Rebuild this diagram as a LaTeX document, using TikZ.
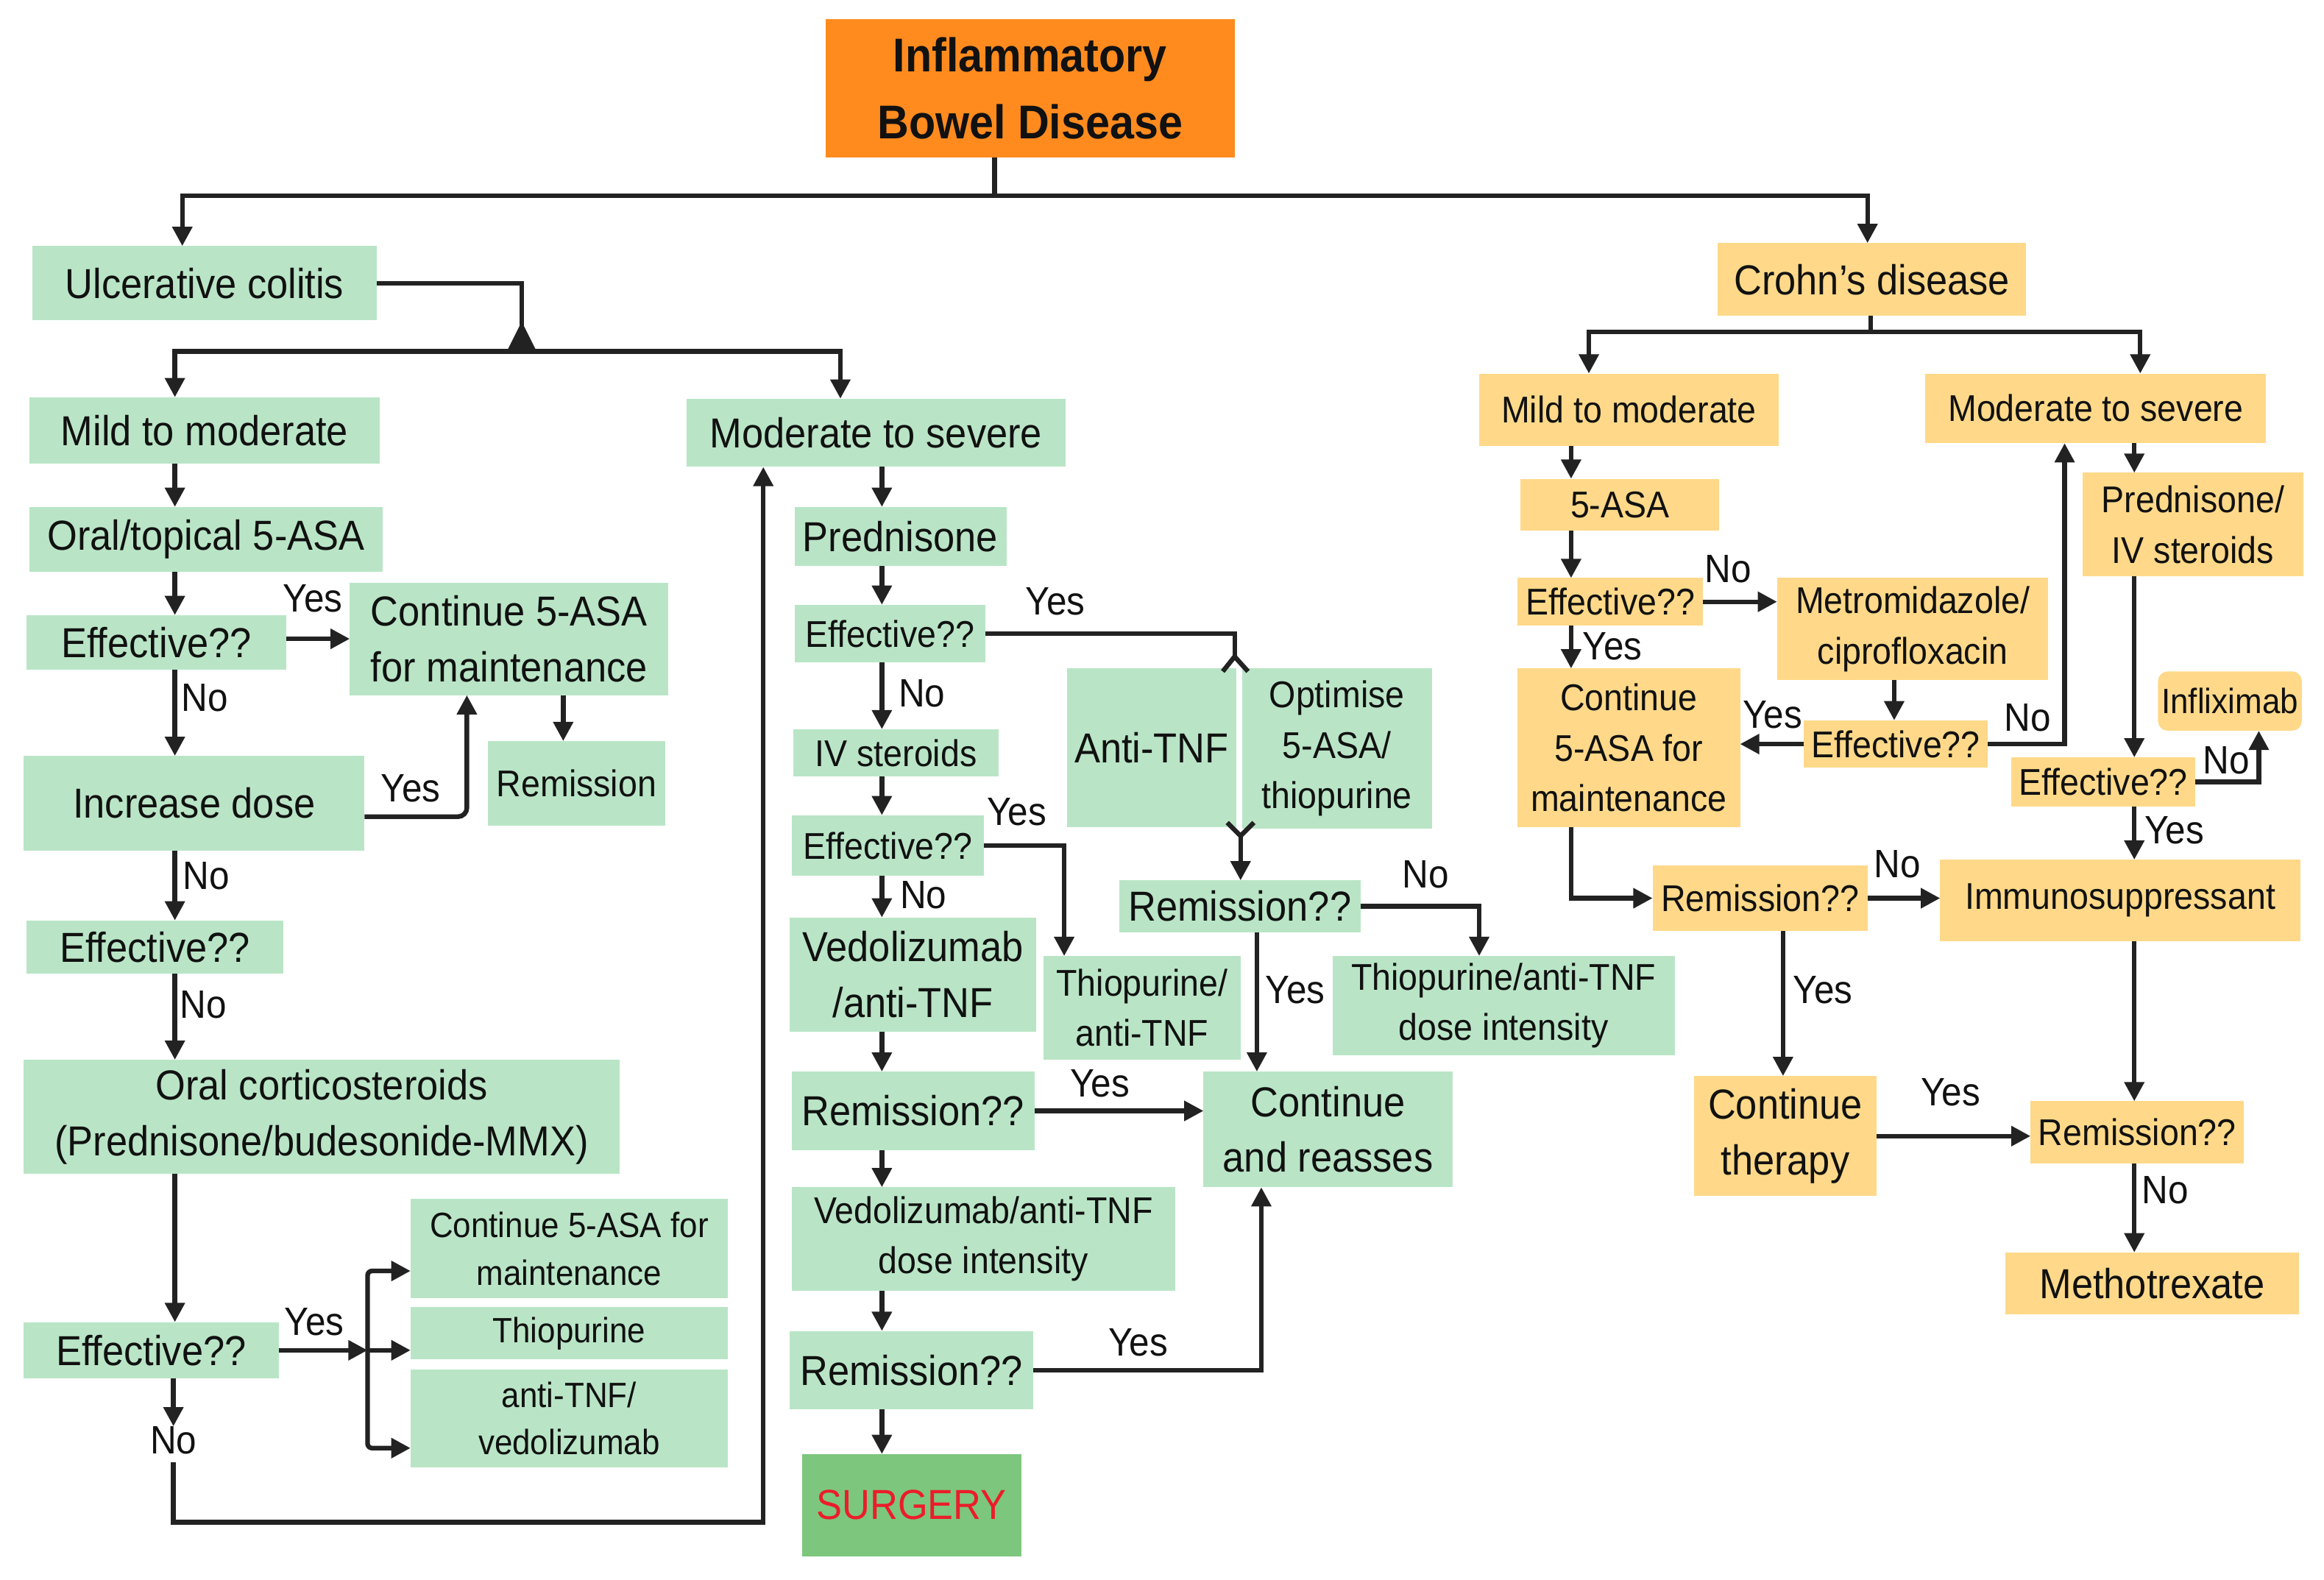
\documentclass[tikz,border=0pt]{standalone}
\usepackage{fontspec}
\setmainfont{Liberation Sans}[FakeStretch=0.92]
\usetikzlibrary{arrows.meta}

\definecolor{ucgreen}{HTML}{B9E5C6}
\definecolor{cdyellow}{HTML}{FFD989}
\definecolor{ibdorange}{HTML}{FF8B1F}
\definecolor{surgG}{HTML}{7DC67D}
\definecolor{surgR}{HTML}{EC1C2A}
\definecolor{lineC}{HTML}{222222}
\definecolor{txtC}{HTML}{111111}

\newcommand\ftL{\fontsize{16.1}{21.3}\selectfont}
\newcommand\ftM{\fontsize{14.3}{19.3}\selectfont}
\newcommand\ftS{\fontsize{13.5}{18.2}\selectfont}
\newcommand\ftLbl{\fontsize{15.2}{18}\selectfont}
\newcommand\ftTitle{\fontsize{18.2}{25.6}\selectfont\bfseries}

\tikzset{
  lnk/.style={draw=lineC, line width=1.8pt},
  arr/.style={lnk, -{Triangle[length=0.26cm,width=0.26cm]}},
  sz/.style 2 args={minimum width=#1*0.02cm, minimum height=#2*0.02cm},
  basebox/.style={inner sep=0pt, outer sep=0pt, align=center, text=txtC},
  gL/.style={basebox, fill=ucgreen, font=\ftL},
  gM/.style={basebox, fill=ucgreen, font=\ftM},
  gS/.style={basebox, fill=ucgreen, font=\ftS},
  yL/.style={basebox, fill=cdyellow, font=\ftL},
  yM/.style={basebox, fill=cdyellow, font=\ftM},
  yS/.style={basebox, fill=cdyellow, font=\ftS},
  obox/.style={basebox, fill=ibdorange, font=\ftTitle},
  sbox/.style={basebox, fill=surgG, font=\ftL, text=surgR},
  lbl/.style={inner sep=0pt, font=\ftLbl, text=txtC},
}

\begin{document}
\begin{tikzpicture}[x=0.02cm, y=-0.02cm]
			\useasboundingbox (0,0) rectangle (1568,1066);
			
			%%%%% COLUMNS %%%%%
			\coordinate (cA) at (118,0);
			\coordinate (cB) at (595,0);
			\coordinate (cC) at (1060,0);
			\coordinate (cD) at (1440,0);
			
			%%%%% TOP %%%%%
			\node (ibd) [obox, sz={276}{93}] at (695,59.5) {Inflammatory\\Bowel Disease};
			\node (uc) [gL, sz={232}{50}] at (138,191) {Ulcerative colitis};
			\node (cd) [yL, sz={208}{49}] at (1263,188.5) {Crohn's disease};
			
			\coordinate (topbar) at (671,132);
			\draw[lnk] (ibd.south -| topbar) -- (topbar);
			\draw[arr] (topbar) -| (uc.north -| 123,0);
			\draw[arr] (topbar) -| (cd.north -| 1260,0);
			
			%%%%% ULCERATIVE COLITIS, MILD %%%%%
			\node (ucmild) [gL, sz={236}{45}] at (138,290.5) {Mild to moderate};
			\node (ucmod) [gL, sz={256}{46}] at (591,292) {Moderate to severe};
			\node (oral) [gL, sz={238}{44}] at (139,364) {Oral/topical 5-ASA};
			\node (eff1) [gL, sz={175}{37}] at (105.5,433.5) {Effective??};
			\node (cont1) [gL, sz={215}{76}] at (343.5,431) {Continue 5-ASA\\for maintenance};
			\node (incr) [gL, sz={230}{64}] at (131,542) {Increase dose};
			\node (remis1) [gM, sz={120}{57}] at (389,528.5) {Remission};
			\node (eff2) [gL, sz={173}{36}] at (104.5,639) {Effective??};
			\node (cortico) [gL, sz={402}{77}] at (217,753.5) {Oral corticosteroids\\(Prednisone/budesonide-MMX)};
			\node (eff3) [gL, sz={172}{38}] at (102,911) {Effective??};
			\node (cont2) [gS, sz={214}{67}] at (384,842.5) {Continue 5-ASA for\\maintenance};
			\node (thio1) [gS, sz={214}{35}] at (384,899.5) {Thiopurine};
			\node (tnf1) [gS, sz={214}{66}] at (384,957) {anti-TNF/\\vedolizumab};
			
			\coordinate (ucbar) at (352,237);
			\draw[lnk] (uc.east) -| (ucbar);
			\fill[lineC] (ucbar) ++(0,-20) -- ++(10,20) -- ++(-20,0) -- cycle;
			\draw[arr] (ucbar) -| (ucmild.north -| cA);
			\draw[arr] (ucbar) -| (ucmod.north -| 567,0);
			
			\draw[arr] (ucmild.south -| cA) -- (oral.north -| cA);
			\draw[arr] (oral.south -| cA) -- (eff1.north -| cA);
			\draw[arr] (eff1.east |- cont1.west) -- (cont1.west);
			\node[lbl] (y1) at (211,404) {Yes};
			\draw[arr] (eff1.south -| cA) -- (incr.north -| cA);
			\node[lbl] (n1) at (138,471) {No};
			\draw[arr, rounded corners=0.12cm] ([yshift=-0.18cm]incr.east) -| (cont1.south -| 315,0);
			\node[lbl] (y2) at (277,532) {Yes};
			\draw[arr] (cont1.south -| 380,0) -- (remis1.north -| 380,0);
			\draw[arr] (incr.south -| cA) -- (eff2.north -| cA);
			\node[lbl] (n2) at (139,591) {No};
			\draw[arr] (eff2.south -| cA) -- (cortico.north -| cA);
			\node[lbl] (n3) at (137,678) {No};
			\draw[arr] (cortico.south -| cA) -- (eff3.north -| cA);
			
			\coordinate (ybar) at (248,0);
			\draw[arr] (eff3.east) -- (eff3.east -| ybar);
			\draw[arr, rounded corners=0.06cm] (eff3.east -| ybar) |- ([yshift=-0.3cm]cont2.west);
			\draw[arr] (eff3.east -| ybar) -- (eff3.east -| thio1.west);
			\draw[arr, rounded corners=0.06cm] (eff3.east -| ybar) |- ([yshift=-0.4cm]tnf1.west);
			\node[lbl] (y3) at (212,892) {Yes};
			
			\node[lbl] (n4) at (117,972) {No};
			\draw[arr] (eff3.south -| n4) -- (n4.north);
			\coordinate (back) at (515,1027);
			\draw[arr] ([yshift=-0.1cm]n4.south) |- (back) -- (ucmod.south -| back);
			
			%%%%% ULCERATIVE COLITIS, SEVERE %%%%%
			\node (pred) [gL, sz={143}{40}] at (607.5,362) {Prednisone};
			\node (eff4) [gM, sz={129}{39}] at (600.5,427.5) {Effective??};
			\node (ivst) [gM, sz={139}{32}] at (604.5,508) {IV steroids};
			\node (eff5) [gM, sz={130}{41}] at (599,570.5) {Effective??};
			\node (vedo) [gL, sz={166}{77}] at (616,657.5) {Vedolizumab\\/anti-TNF};
			\node (thiotnf) [gM, sz={133}{70}] at (770.5,680) {Thiopurine/\\anti-TNF};
			\node (remis2) [gL, sz={164}{53}] at (616,749.5) {Remission??};
			\node (vedodose) [gM, sz={259}{70}] at (663.5,836) {Vedolizumab/anti-TNF\\dose intensity};
			\node (remis3) [gL, sz={164}{53}] at (615,924.5) {Remission??};
			\node (surg) [sbox, sz={148}{69}] at (615,1015.5) {SURGERY};
			\node (tnf2) [gL, sz={114}{107}] at (777,504.5) {Anti-TNF};
			\node (optim) [gM, sz={128}{108}] at (902,505) {Optimise\\5-ASA/\\thiopurine};
			\node (remism) [gL, sz={163}{35}] at (836.5,611.5) {Remission??};
			\node (thiodose) [gM, sz={231}{67}] at (1014.5,678.5) {Thiopurine/anti-TNF\\dose intensity};
			\node (contre) [gL, sz={168}{78}] at (896,762) {Continue\\and reasses};
			
			\draw[arr] (ucmod.south -| cB) -- (pred.north -| cB);
			\draw[arr] (pred.south -| cB) -- (eff4.north -| cB);
			\coordinate (forkT) at (833,443);
			\draw[lnk] (eff4.east) -| (forkT);
			\draw[lnk] (forkT) ++(-8,10) -- (forkT) -- ++(9,10);
			\node[lbl] (y4) at (712,406) {Yes};
			\draw[arr] (eff4.south -| cB) -- (ivst.north -| cB);
			\node[lbl] (n5) at (622,468) {No};
			\draw[arr] (ivst.south -| cB) -- (eff5.north -| cB);
			\draw[arr] (eff5.east) -| (thiotnf.north -| 718,0);
			\node[lbl] (y5) at (686,548) {Yes};
			\draw[arr] (eff5.south -| cB) -- (vedo.north -| cB);
			\node[lbl] (n6) at (623,604) {No};
			\draw[arr] (vedo.south -| cB) -- (remis2.north -| cB);
			\draw[arr] (remis2.east) -- (remis2.east -| contre.west);
			\node[lbl] (y6) at (742,731) {Yes};
			\draw[arr] (remis2.south -| cB) -- (vedodose.north -| cB);
			\draw[arr] (vedodose.south -| cB) -- (remis3.north -| cB);
			\draw[arr] (remis3.east) -| (contre.south -| 851,0);
			\node[lbl] (y7) at (768,906) {Yes};
			\draw[arr] (remis3.south -| cB) -- (surg.north -| cB);
			
			\coordinate (forkB) at (837,564);
			\draw[lnk] (forkB) ++(-9,-9) -- (forkB) -- ++(9,-9);
			\draw[arr] (forkB) -- (remism.north -| forkB);
			\draw[arr] (remism.east) -| (thiodose.north -| 998,0);
			\node[lbl] (n7) at (962,590) {No};
			\draw[arr] (remism.south -| 848,0) -- (contre.north -| 848,0);
			\node[lbl] (y8) at (874,668) {Yes};
			
			%%%%% CROHN'S DISEASE %%%%%
			\node (cdmild) [yM, sz={202}{49}] at (1099,276.5) {Mild to moderate};
			\node (cdmod) [yM, sz={230}{47}] at (1414,275.5) {Moderate to severe};
			\node (asa) [yM, sz={134}{35}] at (1093,340.5) {5-ASA};
			\node (eff6) [yM, sz={125}{32}] at (1086.5,406) {Effective??};
			\node (metro) [yM, sz={183}{69}] at (1290.5,424.5) {Metromidazole/\\ciprofloxacin};
			\node (cont3) [yM, sz={150}{107}] at (1099,504.5) {Continue\\5-ASA for\\maintenance};
			\node (eff7) [yM, sz={124}{32}] at (1279,502) {Effective??};
			\node (predcd) [yM, sz={149}{70}] at (1479.5,354) {Prednisone/\\IV steroids};
			\node (inflix) [yS, rounded corners=0.13cm, sz={97}{40}] at (1504.5,473) {Infliximab};
			\node (eff8) [yM, sz={124}{33}] at (1419,527.5) {Effective??};
			\node (remis4) [yM, sz={145}{44}] at (1187.5,606) {Remission??};
			\node (immuno) [yM, sz={243}{55}] at (1430.5,607.5) {Immunosuppressant};
			\node (conttx) [yL, sz={123}{81}] at (1204.5,766.5) {Continue\\therapy};
			\node (remis5) [yM, sz={144}{42}] at (1442,764) {Remission??};
			\node (metho) [yL, sz={198}{42}] at (1452,866) {Methotrexate};
			
			\coordinate (cdbar) at (1262,224);
			\draw[lnk] (cd.south -| cdbar) -- (cdbar);
			\draw[arr] (cdbar) -| (cdmild.north -| 1072,0);
			\draw[arr] (cdbar) -| (cdmod.north -| 1444,0);
			
			\draw[arr] (cdmild.south -| cC) -- (asa.north -| cC);
			\draw[arr] (asa.south -| cC) -- (eff6.north -| cC);
			\draw[arr] (eff6.east) -- (eff6.east -| metro.west);
			\node[lbl] (n8) at (1166,384) {No};
			\draw[arr] (eff6.south -| cC) -- (cont3.north -| cC);
			\node[lbl] (y9) at (1088,436) {Yes};
			\draw[arr] (metro.south -| 1278,0) -- (eff7.north -| 1278,0);
			\draw[arr] (eff7.west) -- (eff7.west -| cont3.east);
			\node[lbl] (y10) at (1196,482) {Yes};
			\draw[arr] (eff7.east) -| (cdmod.south -| 1393,0);
			\node[lbl] (n9) at (1368,484) {No};
			
			\draw[arr] (cdmod.south -| cD) -- (predcd.north -| cD);
			\draw[arr] (predcd.south -| cD) -- (eff8.north -| cD);
			\draw[arr] (eff8.east) -| (inflix.south -| 1524,0);
			\node[lbl] (n10) at (1502,513) {No};
			\draw[arr] (eff8.south -| cD) -- (immuno.north -| cD);
			\node[lbl] (y11) at (1467,560) {Yes};
			
			\draw[arr] (cont3.south -| cC) |- (remis4.west);
			\draw[arr] (remis4.east) -- (remis4.east -| immuno.west);
			\node[lbl] (n11) at (1280,583) {No};
			\draw[arr] (remis4.south -| 1203,0) -- (conttx.north -| 1203,0);
			\node[lbl] (y12) at (1230,668) {Yes};
			\draw[arr] (conttx.east) -- (conttx.east -| remis5.west);
			\node[lbl] (y13) at (1316,737) {Yes};
			\draw[arr] (immuno.south -| cD) -- (remis5.north -| cD);
			\draw[arr] (remis5.south -| cD) -- (metho.north -| cD);
			\node[lbl] (n12) at (1461,803) {No};
			
			%%%%% END %%%%%
\end{tikzpicture}
\end{document}
